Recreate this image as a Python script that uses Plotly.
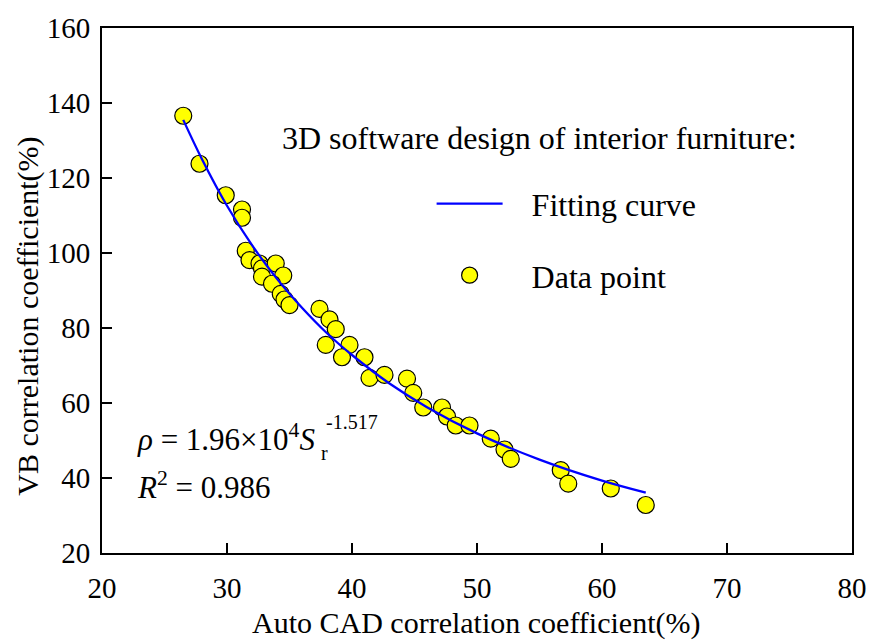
import plotly.graph_objects as go

# Data points (Auto CAD %, VB %)
data_x = [26.5, 27.8, 29.9, 31.2, 31.2, 31.5, 31.8, 32.6, 32.8, 33.9, 34.5, 32.8, 33.6,
          34.3, 34.6, 35.0, 37.4, 38.2, 38.7, 37.9, 39.8, 39.2, 41.0, 41.4, 42.6, 44.4,
          44.9, 45.7, 47.2, 47.6, 48.3, 49.4, 51.1, 52.2, 52.7, 56.7, 57.3, 60.7, 63.5]
data_y = [136.6, 123.8, 115.4, 111.6, 109.4, 100.6, 98.1, 97.2, 95.9, 97.2, 94.0, 93.7, 91.8,
          89.1, 87.6, 86.1, 85.1, 82.3, 79.7, 75.5, 75.5, 72.2, 72.2, 66.7, 67.5, 66.5,
          62.7, 58.8, 58.8, 56.4, 54.0, 54.0, 50.5, 47.6, 45.1, 42.1, 38.5, 37.2, 32.8]

# Fitting curve
curve_x = [26.5, 28, 30, 32, 34, 36, 38, 40, 43, 46, 50, 55, 60, 63.5]
curve_y = [135.5, 125.0, 112.6, 102.1, 93.1, 85.4, 78.6, 72.8, 65.2, 58.9, 51.9, 44.9, 39.3, 36.1]

x_ticks = [20, 30, 40, 50, 60, 70, 80]
y_ticks = [20, 40, 60, 80, 100, 120, 140, 160]

FONT = "Liberation Serif"
NB = "\u00a0"

W, H = 879, 640
L, R, T, B = 102, 17, 22, 87
PW, PH = W - L - R, H - T - B


def px(xp):
    return (xp - L) / PW


def py(yp):
    return (H - B - yp) / PH


fig = go.Figure()
fig.add_trace(go.Scatter(
    x=data_x, y=data_y, mode="markers", name=NB * 3 + "Data point",
    legendgroup="b", legendrank=2,
    marker=dict(size=17, color="#FFFF00", line=dict(color="black", width=1.2)),
))
fig.add_trace(go.Scatter(
    x=curve_x, y=curve_y, mode="lines", name=NB * 3 + "Fitting curve",
    legendgroup="a", legendrank=1,
    line=dict(color="#0000FF", width=2.3, shape="spline"),
))

axis_common = dict(
    showline=True, linecolor="black", linewidth=2, mirror=True,
    ticks="inside", ticklen=10, tickwidth=1.5, tickcolor="black",
    showgrid=False, zeroline=False,
    tickfont=dict(family=FONT, size=29, color="black"),
)

fig.update_xaxes(range=[20, 80], tickvals=x_ticks, ticklabelstandoff=8, **axis_common)
fig.update_yaxes(range=[20, 160], tickvals=y_ticks, ticklabelstandoff=4, **axis_common)

annotations = [
    dict(text="Auto CAD correlation coefficient(%)", x=px(481), y=py(624),
         font=dict(size=30)),
    dict(text="VB correlation coefficient(%)", x=px(27), y=py(313), textangle=-90,
         font=dict(size=30)),
    dict(text="3D software design of interior furniture:", x=px(282), y=py(133),
         xanchor="left", font=dict(size=32)),
    dict(text="<i>ρ</i> = 1.96×10<sup>4</sup><i>S</i>", x=px(135), y=py(436),
         xanchor="left", font=dict(size=31)),
    dict(text="-1.517", x=px(327), y=py(421), xanchor="left", font=dict(size=20)),
    dict(text="r", x=px(322), y=py(452), xanchor="left", font=dict(size=20)),
    dict(text="<i>R</i><sup>2</sup> = 0.986", x=px(135), y=py(485),
         xanchor="left", font=dict(size=31)),
]
for a in annotations:
    a.setdefault("xanchor", "center")
    a.update(xref="paper", yref="paper", showarrow=False, yanchor="middle")
    a["font"].update(family=FONT, color="black")

fig.update_layout(
    width=W, height=H,
    margin=dict(l=L, r=R, t=T, b=B),
    plot_bgcolor="white", paper_bgcolor="white",
    font=dict(family=FONT, color="black"),
    annotations=annotations,
    showlegend=True,
    legend=dict(
        x=px(436), y=py(172), xanchor="left", yanchor="top",
        font=dict(family=FONT, size=32, color="black"),
        bgcolor="rgba(0,0,0,0)", borderwidth=0,
        itemwidth=66, tracegroupgap=27, traceorder="grouped",
    ),
)

fig.write_html("out.html")
